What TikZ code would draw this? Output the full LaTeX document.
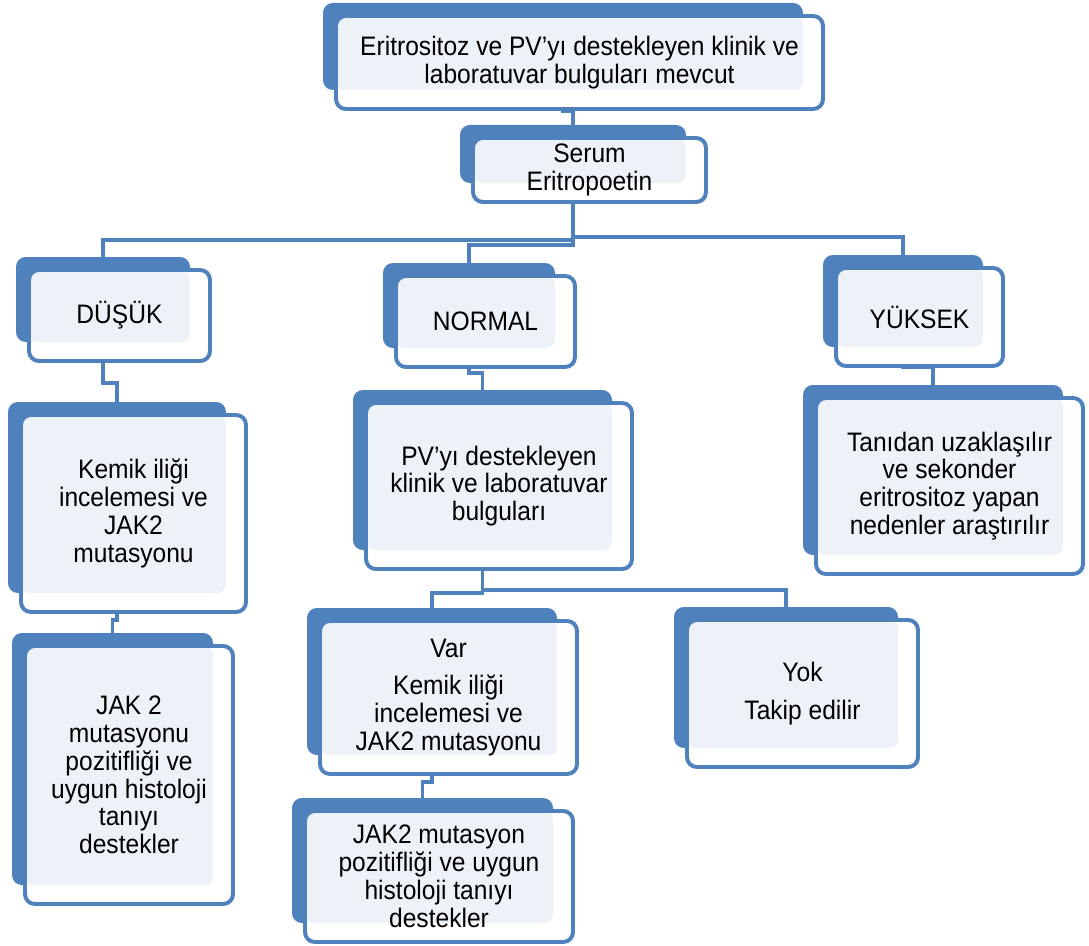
\documentclass[tikz,border=0pt]{standalone}
\usepackage{fontspec}
\setmainfont{Liberation Sans}[FakeStretch=0.92]
\usetikzlibrary{calc,backgrounds}

\definecolor{smartblue}{HTML}{4F81BD}
\definecolor{smartlight}{HTML}{EDF1F8}

\tikzset{
    backbox/.style={fill=smartblue, rounded corners=7pt, inner sep=0pt, outer sep=0pt},
    frontbox/.style={draw=smartblue, line width=2.8pt, fill=white, rounded corners=7pt,
        align=center, inner sep=2pt, font=\fontsize{19}{19.8}\selectfont,
        path picture={\fill[smartlight, rounded corners=6pt] (path picture bounding box.north west)
            rectangle ($(path picture bounding box.south east)+(-20,-19)$);}},
    conn/.style={draw=smartblue, line width=2.8pt},
}

% name, centre, width, height, text
\newcommand\flowbox[5]{%
    \node[backbox, minimum width=#3*0.025cm, minimum height=#4*0.025cm] (#1) at (#2) {};
    \node[frontbox, minimum width=(#3+7)*0.025cm, minimum height=(#4+6)*0.025cm] (#1-t) at ($(#1)+(16.5,16)$) {#5};
}

\begin{document}
\begin{tikzpicture}[x=0.025cm, y=-0.025cm]
    \useasboundingbox (0,0) rectangle (1089,945);

    \flowbox{top}{563,46.5}{480}{87}{Eritrositoz ve PV'yı destekleyen klinik ve\\laboratuvar bulguları mevcut}
    \flowbox{serum}{573,154}{226}{58}{Serum\\Eritropoetin}

    \flowbox{dusuk}{103,299.5}{174}{85}{DÜŞÜK}
    \flowbox{normal}{469,305.5}{172}{85}{NORMAL}
    \flowbox{yuksek}{903,301}{160}{92}{YÜKSEK}

    \flowbox{kemik}{117,497.5}{218}{191}{Kemik iliği\\incelemesi ve\\JAK2\\mutasyonu}
    \flowbox{pv}{482.5,470}{259}{160}{PV'yı destekleyen\\klinik ve laboratuvar\\bulguları}
    \flowbox{tani}{933,470}{260}{170}{Tanıdan uzaklaşılır\\ve sekonder\\eritrositoz yapan\\nedenler araştırılır}

    \flowbox{jak}{112.5,759}{201}{252}{JAK 2\\mutasyonu\\pozitifliği ve\\uygun histoloji\\tanıyı\\destekler}
    \flowbox{var}{432,681.5}{250}{147}{Var\\[7pt]Kemik iliği\\incelemesi ve\\JAK2 mutasyonu}
    \flowbox{yok}{786,677.5}{224}{141}{Yok\\[7pt]Takip edilir}
    \flowbox{jakm}{422.5,860.5}{261}{125}{JAK2 mutasyon\\pozitifliği ve uygun\\histoloji tanıyı\\destekler}

    \begin{scope}[on background layer]
        \draw[conn] (top.south) -- ++(0,21) -| (serum.north);
        \draw[conn] (serum.south) -- ++(0,54) -| (yuksek.north);
        \draw[conn] (serum.south) -- ++(0,57) -| (dusuk.north);
        \draw[conn] (serum.south) -- ++(0,62) -| (normal.north);
        \draw[conn] (dusuk.south) -- ++(0,41) -| (kemik.north);
        \draw[conn] (kemik.south) -- ++(0,27) -| (jak.north);
        \draw[conn] (normal.south) -- ++(0,25) -| (pv.north);
        \draw[conn] (yuksek.south) -- ++(0,20) -| (tani.north);
        \draw[conn] (pv.south) -- ++(0,40) -| (yok.north);
        \draw[conn] (pv.south) -- ++(0,43) -| (var.north);
        \draw[conn] (var.south) -- ++(0,27) -| (jakm.north);
    \end{scope}
\end{tikzpicture}
\end{document}
